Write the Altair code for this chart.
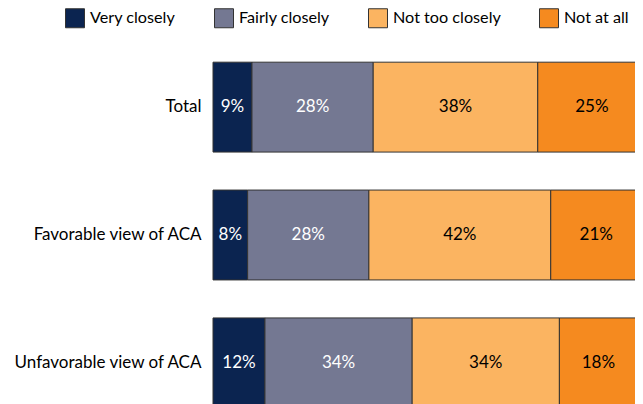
import altair as alt
import pandas as pd

groups = ["Total", "Favorable view of ACA", "Unfavorable view of ACA"]
categories = ["Very closely", "Fairly closely", "Not too closely", "Not at all"]
total = [9, 28, 38, 25]
favorable = [8, 28, 42, 21]
unfavorable = [12, 34, 34, 18]
colors = ["#0b2450", "#747892", "#fbb461", "#f58a1f"]

rows = []
for g, vals in zip(groups, [total, favorable, unfavorable]):
    for i, (c, v) in enumerate(zip(categories, vals)):
        rows.append({"group": g, "category": c, "order": i, "value": v})
df = pd.DataFrame(rows)

FONT = "Lato"

base = alt.Chart(df).transform_stack(
    stack="value", groupby=["group"], as_=["x0", "x1"],
    sort=[alt.SortField("order", order="ascending")]
).transform_calculate(
    mid="(datum.x0 + datum.x1) / 2",
    label="datum.value + '%'"
)

y_enc = alt.Y(
    "group:N", sort=groups,
    scale=alt.Scale(paddingInner=0.297, paddingOuter=0.15),
    axis=alt.Axis(title=None, domain=False, ticks=False, labelPadding=12,
                  labelLimit=300, labelFontSize=17, labelFont=FONT,
                  labelColor="black"),
)

bars = base.mark_bar(stroke="#333333", strokeWidth=1).encode(
    y=y_enc,
    x=alt.X("x0:Q", scale=alt.Scale(domain=[0, 100], range=[0, 433]), axis=None),
    x2="x1:Q",
    color=alt.Color(
        "category:N", sort=categories,
        scale=alt.Scale(domain=categories, range=colors),
        legend=alt.Legend(
            title=None, orient="none", legendX=-148, legendY=-35,
            direction="horizontal", padding=0,
            symbolType="square", symbolSize=361,
            symbolStrokeColor="#333333", symbolStrokeWidth=1, symbolOpacity=1,
            labelFontSize=16.2, labelFont=FONT, labelColor="black",
            labelOffset=5, columnPadding=36, labelLimit=300,
        ),
    ),
)

text = base.mark_text(fontSize=17, font=FONT).encode(
    y=alt.Y("group:N", sort=groups),
    x=alt.X("mid:Q"),
    text="label:N",
    color=alt.condition("datum.order < 2", alt.value("white"), alt.value("black")),
)

chart = alt.layer(bars, text).properties(
    width=422, height=384,
    autosize=alt.AutoSizeParams(type="none"),
    padding={"left": 205, "top": 35, "right": 0, "bottom": 0},
).configure_view(stroke=None)

chart.save("out.html", embed_options={"renderer": "svg", "actions": False})
